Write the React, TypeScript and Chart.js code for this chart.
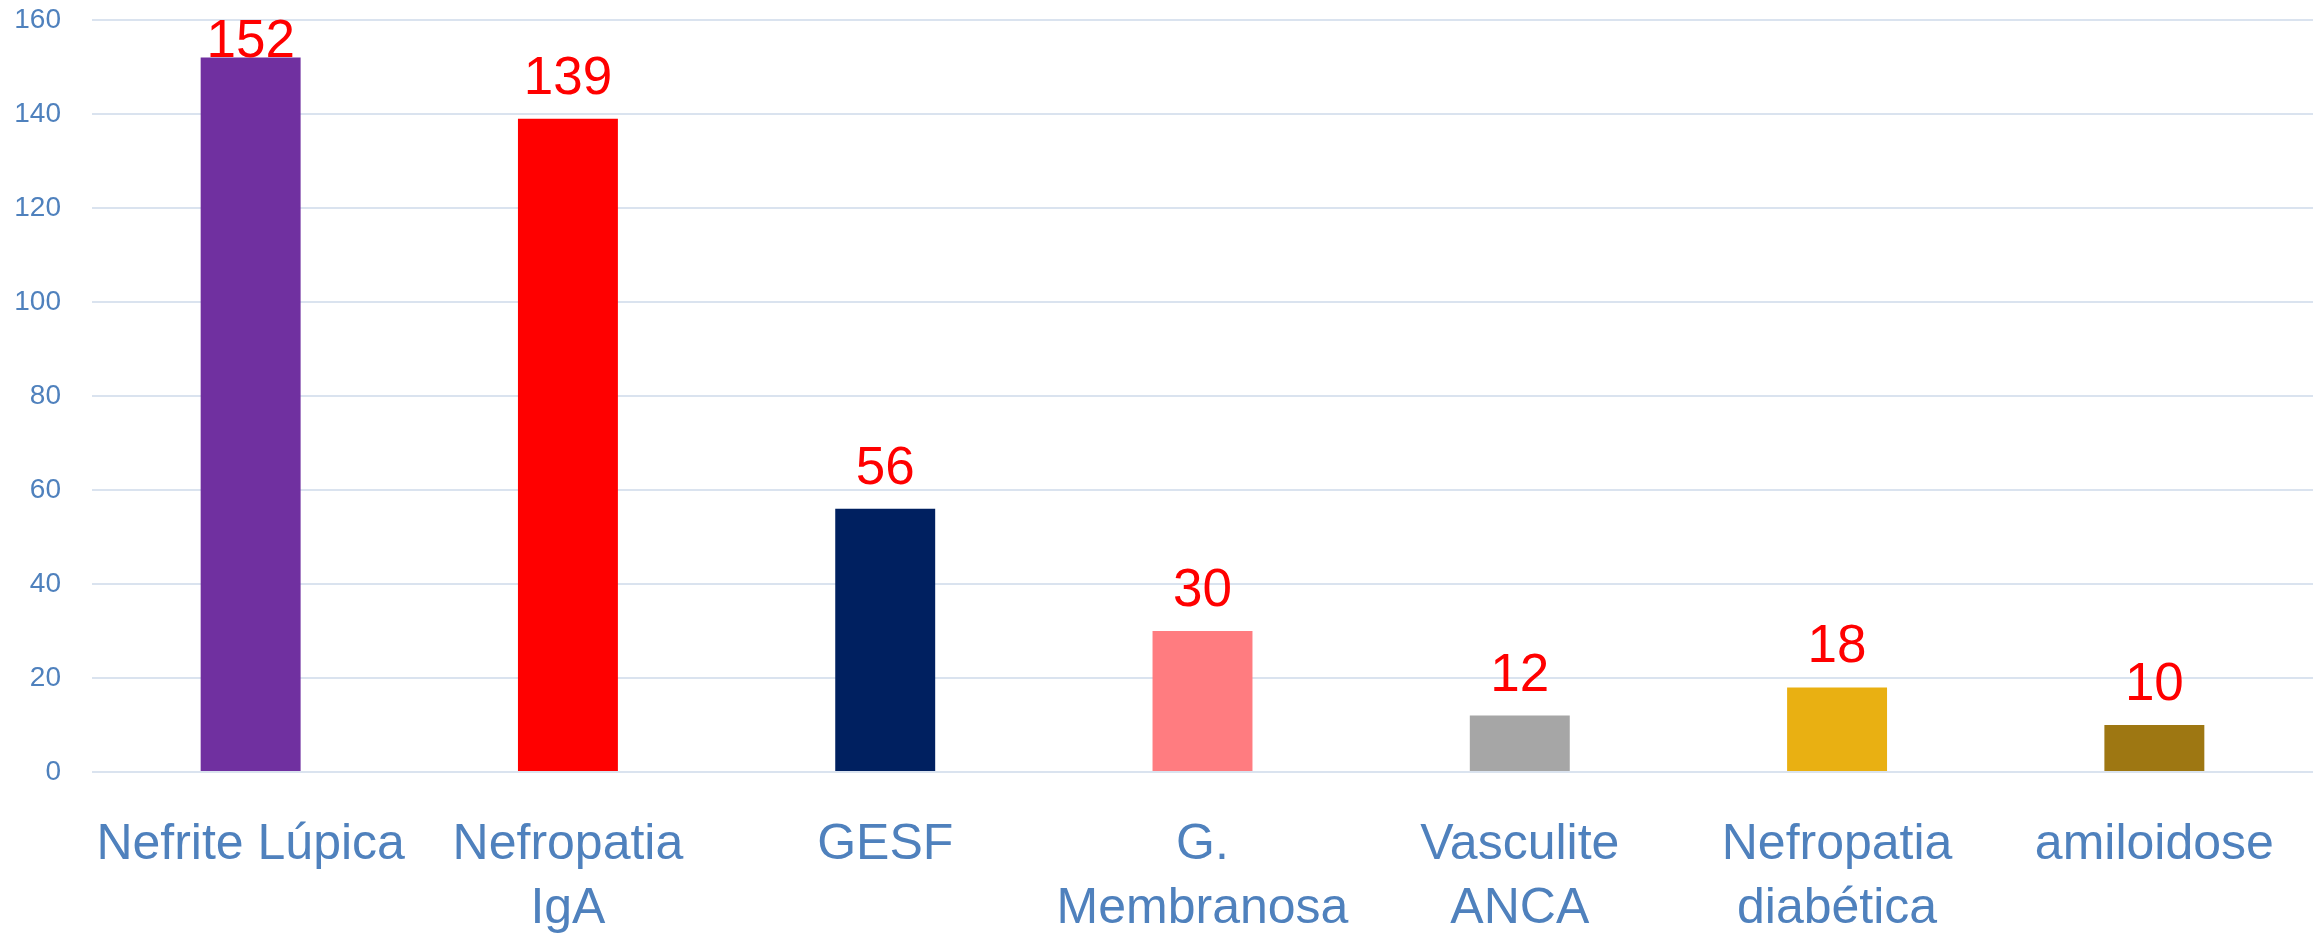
import React, { useEffect, useRef } from "react";
import { Chart, registerables } from "chart.js";

Chart.register(...registerables);

const categories: (string | string[])[] = [
  "Nefrite Lúpica",
  ["Nefropatia", "IgA"],
  "GESF",
  ["G.", "Membranosa"],
  ["Vasculite", "ANCA"],
  ["Nefropatia", "diabética"],
  "amiloidose",
];
const values = [152, 139, 56, 30, 12, 18, 10];
const barColors = ["#7030A0", "#FF0000", "#002060", "#FF7C80", "#A6A6A6", "#E9B012", "#9E7712"];
const yTicks = [0, 20, 40, 60, 80, 100, 120, 140, 160];

const valueLabels = {
  id: "valueLabels",
  afterDatasetsDraw(chart: any) {
    const ctx = chart.ctx;
    const meta = chart.getDatasetMeta(0);
    const area = chart.chartArea;
    ctx.save();
    ctx.font = "53px 'Liberation Sans', Arial, sans-serif";
    ctx.fillStyle = "#FF0000";
    ctx.textAlign = "center";
    ctx.textBaseline = "alphabetic";
    meta.data.forEach((bar: any, i: number) => {
      const y = Math.max(bar.y - 25, area.top + 37);
      ctx.fillText(String(values[i]), bar.x, y);
    });
    ctx.restore();
  },
};

export default function App() {
  const ref = useRef<HTMLCanvasElement | null>(null);
  useEffect(() => {
    if (!ref.current) return;
    const chart = new Chart(ref.current, {
      type: "bar",
      data: {
        labels: categories,
        datasets: [
          {
            data: values,
            backgroundColor: barColors,
            borderWidth: 0,
            categoryPercentage: 1,
            barPercentage: 0.315,
          },
        ],
      },
      options: {
        animation: false,
        responsive: false,
        layout: { padding: { top: 20, right: 7, left: 0, bottom: 0 } },
        plugins: { legend: { display: false }, tooltip: { enabled: false } },
        scales: {
          x: {
            grid: { display: false, drawTicks: false },
            border: { display: false },
            ticks: {
              color: "#4F81BD",
              font: { family: "'Liberation Sans', Arial, sans-serif", size: 50, lineHeight: 1.28 },
              padding: 41,
              maxRotation: 0,
              autoSkip: false,
            },
            afterFit: (scale: any) => {
              scale.height = 164;
              scale.paddingLeft = 0;
              scale.paddingRight = 0;
            },
          },
          y: {
            min: 0,
            max: 160,
            afterBuildTicks: (scale: any) => {
              scale.ticks = yTicks.map((v) => ({ value: v }));
            },
            grid: { color: "#DAE3EF", lineWidth: 2, drawTicks: false },
            border: { display: false },
            ticks: {
              color: "#4F81BD",
              font: { family: "'Liberation Sans', Arial, sans-serif", size: 28 },
              padding: 31,
            },
            afterFit: (scale: any) => {
              scale.width = 92;
              scale.paddingTop = 0;
              scale.paddingBottom = 0;
            },
          },
        },
      },
      plugins: [valueLabels],
    });
    return () => chart.destroy();
  }, []);
  return (
    <div style={{ position: "absolute", left: 0, top: 0, width: 2320, height: 936, background: "#fff" }}>
      <canvas ref={ref} width={2320} height={936} />
    </div>
  );
}
